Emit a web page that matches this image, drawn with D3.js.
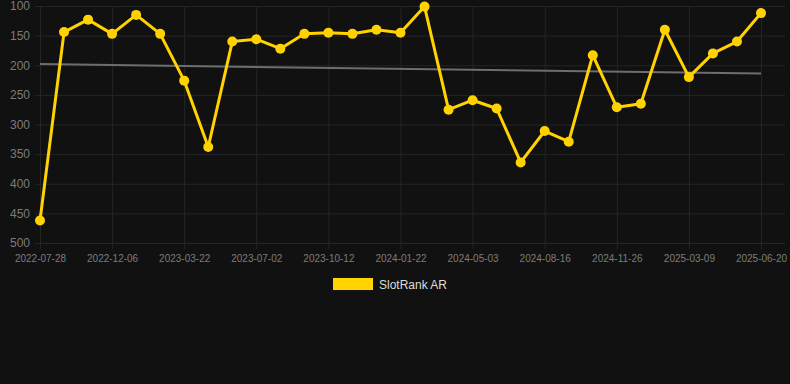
<!DOCTYPE html>
<html>
<head>
<meta charset="utf-8">
<script src="https://cdn.jsdelivr.net/npm/d3@7"></script>
<style>
  html, body { margin: 0; padding: 0; background: #111111; }
  svg { display: block; font-family: Arial, "Liberation Sans", sans-serif; }
</style>
</head>
<body>
<script>
// dates of each point (only every third one is shown on the axis)
var dates = ["2022-07-28", "2022-09-10", "2022-10-23", "2022-12-06", "2023-01-10",
  "2023-02-14", "2023-03-22", "2023-04-26", "2023-05-28", "2023-07-02", "2023-08-04",
  "2023-09-08", "2023-10-12", "2023-11-14", "2023-12-19", "2024-01-22", "2024-02-24",
  "2024-03-30", "2024-05-03", "2024-06-08", "2024-07-12", "2024-08-16", "2024-09-19",
  "2024-10-23", "2024-11-26", "2024-12-30", "2025-02-03", "2025-03-09", "2025-04-12",
  "2025-05-17", "2025-06-20"];

// rank values
var ranks = [462, 144, 123, 147, 115, 147, 226, 338, 160, 156, 172,
  147, 145, 147, 140, 145, 101, 275, 259, 273, 364,
  311, 329, 183, 271, 265, 140, 220, 180, 160, 112];

// trend line (start and end value)
var trend = [198, 214];

var yTicks = [100, 150, 200, 250, 300, 350, 400, 450, 500];
var seriesName = "SlotRank AR";

var svgWidth = 790, svgHeight = 384;
var margin = { top: 6, right: 29, bottom: 141, left: 40 };
var lineColor = "#ffd200";

var svg = d3.select("body")
  .append("svg")
  .attr("width", svgWidth)
  .attr("height", svgHeight);

svg.append("rect")
  .attr("width", svgWidth)
  .attr("height", svgHeight)
  .attr("fill", "#111111");

// x scale: evenly spaced categories
var xScale = d3.scalePoint()
  .domain(dates)
  .range([margin.left, svgWidth - margin.right]);

// y scale: rank, 100 at the top
var yScale = d3.scaleLinear()
  .domain([100, 500])
  .range([margin.top, svgHeight - margin.bottom]);

var shownDates = dates.filter(function(d, i) { return i % 3 === 0; });

// horizontal grid + y labels
var yAxis = svg.append("g")
  .attr("transform", "translate(" + (margin.left - 5) + ",0)")
  .call(d3.axisLeft(yScale)
    .tickValues(yTicks)
    .tickSize(-(svgWidth - margin.left))
    .tickPadding(5));
yAxis.select(".domain").remove();
yAxis.selectAll("line").attr("stroke", "#252525");
yAxis.selectAll("text")
  .attr("fill", "#7c7c7c")
  .style("font-size", "12px");

// vertical grid + x labels
var xAxis = svg.append("g")
  .attr("transform", "translate(0," + (svgHeight - margin.bottom + 6) + ")")
  .call(d3.axisBottom(xScale)
    .tickValues(shownDates)
    .tickSize(-(svgHeight - margin.bottom - margin.top + 6))
    .tickPadding(6));
xAxis.select(".domain").remove();
xAxis.selectAll("line").attr("stroke", "#252525");
xAxis.selectAll("text")
  .attr("fill", "#7c7c7c")
  .style("font-size", "10px");

// trend line
svg.append("line")
  .attr("x1", xScale(dates[0]))
  .attr("y1", yScale(trend[0]))
  .attr("x2", xScale(dates[dates.length - 1]))
  .attr("y2", yScale(trend[1]))
  .attr("stroke", "#6e6e6e")
  .attr("stroke-width", 2);

// rank line
var line = d3.line()
  .x(function(d, i) { return xScale(dates[i]); })
  .y(function(d) { return yScale(d); });

svg.append("path")
  .datum(ranks)
  .attr("d", line)
  .attr("fill", "none")
  .attr("stroke", lineColor)
  .attr("stroke-width", 3)
  .attr("stroke-linejoin", "round");

svg.selectAll("circle.pt")
  .data(ranks)
  .enter()
  .append("circle")
  .attr("class", "pt")
  .attr("cx", function(d, i) { return xScale(dates[i]); })
  .attr("cy", function(d) { return yScale(d); })
  .attr("r", 5)
  .attr("fill", lineColor);

// legend
var legend = svg.append("g")
  .attr("transform", "translate(333,278)");
legend.append("rect")
  .attr("width", 40)
  .attr("height", 12)
  .attr("fill", lineColor);
legend.append("text")
  .attr("x", 46)
  .attr("y", 10.5)
  .attr("fill", "#dddddd")
  .style("font-size", "12px")
  .text(seriesName);
</script>
</body>
</html>
